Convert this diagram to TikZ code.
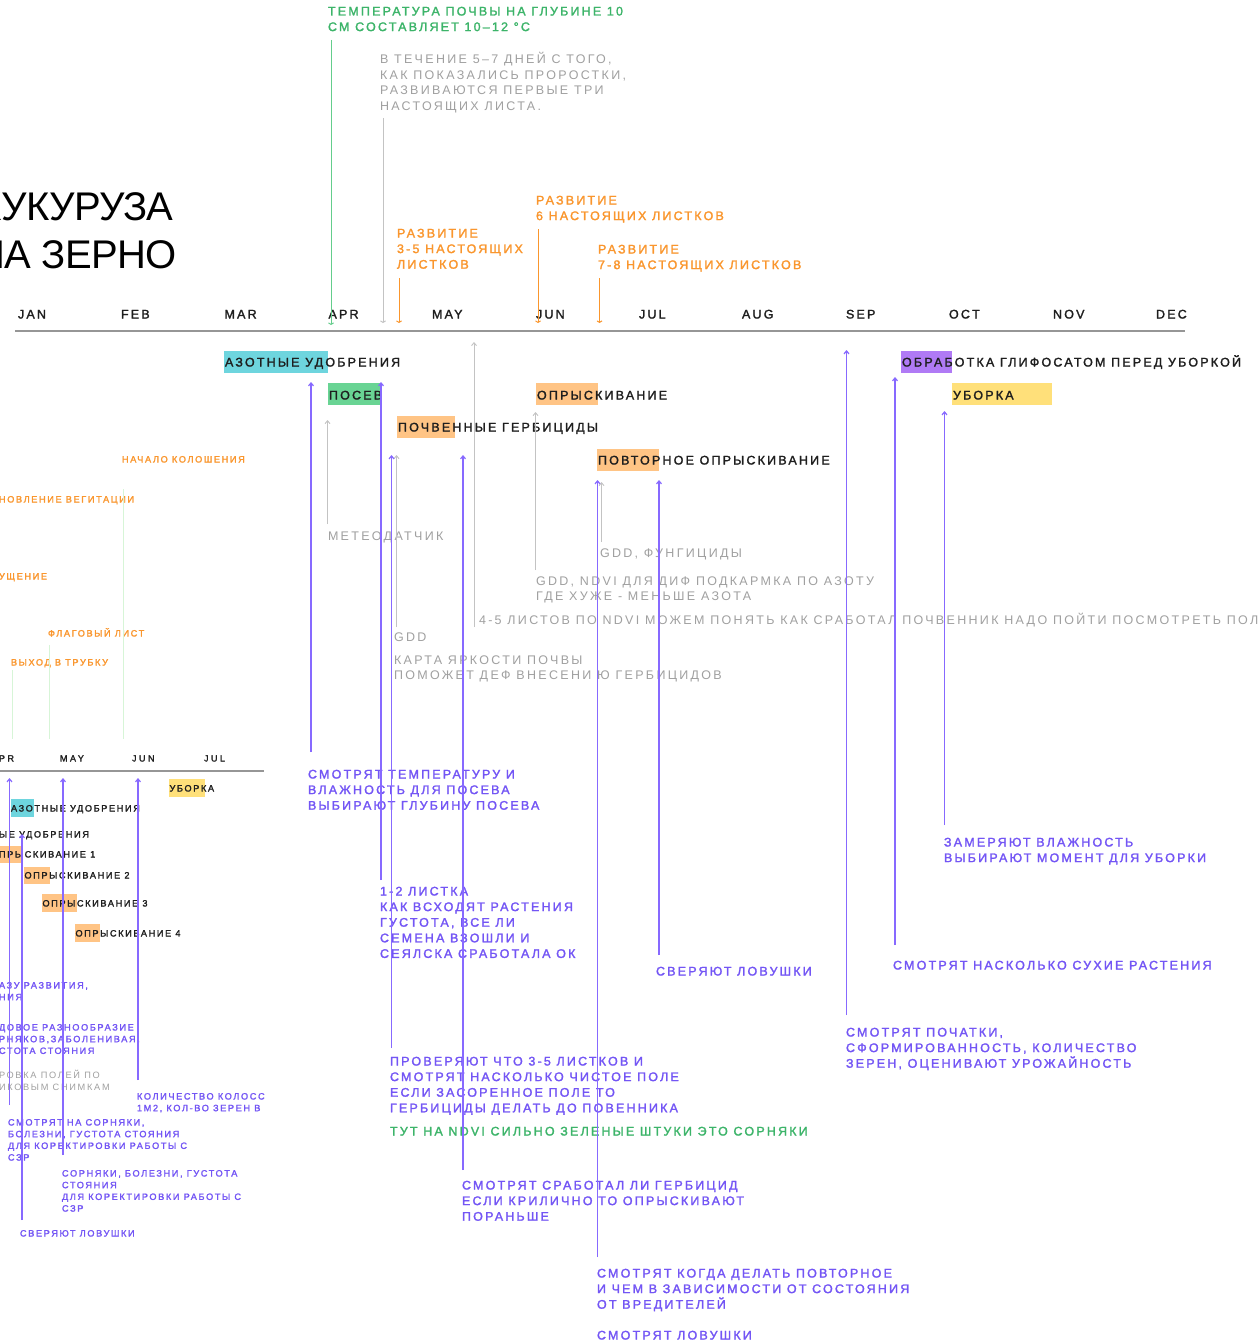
\documentclass[tikz,border=0pt]{standalone}
\usepackage{fontspec}
\usetikzlibrary{arrows.meta}
\newfontfamily\lfm[LetterSpace=17.5,FakeBold=1.8]{Liberation Sans}
\newfontfamily\lfr[LetterSpace=18.5]{Liberation Sans}
\newfontfamily\lfw[LetterSpace=28,FakeBold=1.8]{Liberation Sans}
\newfontfamily\ttlf[LetterSpace=-1.5]{Liberation Sans}
\definecolor{cOr}{RGB}{250,150,45}
\definecolor{cGt}{RGB}{60,180,105}
\definecolor{cGl}{RGB}{100,205,140}
\definecolor{cGr}{RGB}{160,160,160}
\definecolor{cGrl}{RGB}{195,195,195}
\definecolor{cPu}{RGB}{115,85,245}
\definecolor{cPul}{RGB}{135,105,255}
\definecolor{cDk}{RGB}{30,30,30}
\definecolor{cAx}{RGB}{150,150,150}
\definecolor{bCy}{RGB}{110,213,222}
\definecolor{bGn}{RGB}{105,212,148}
\definecolor{bOr}{RGB}{255,196,133}
\definecolor{bPu}{RGB}{176,122,245}
\definecolor{bYe}{RGB}{255,224,122}
\definecolor{cLg}{RGB}{215,245,215}
\tikzset{
  every node/.style={inner sep=0pt, outer sep=0pt},
  big/.style={font=\lfm\fontsize{12.5}{15.6}\selectfont, align=left, anchor=base west},
  bigr/.style={font=\lfr\fontsize{12.5}{15.6}\selectfont, align=left, anchor=base west},
  sml/.style={font=\lfm\fontsize{9.2}{11.7}\selectfont, align=left, anchor=base west},
  smlr/.style={font=\lfr\fontsize{9.2}{11.7}\selectfont, align=left, anchor=base west},
  mon/.style={font=\lfm\fontsize{12.5}{15}\selectfont, text=cDk, anchor=base west},
  smon/.style={font=\lfw\fontsize{9}{11}\selectfont, text=cDk, anchor=base west},
  ttl/.style={font=\ttlf\fontsize{40}{48}\selectfont, text=black},
  boxn/.style={anchor=north west, minimum width=#1, minimum height=22pt},
  sboxn/.style={anchor=north west, minimum width=#1, minimum height=18pt},
  parrow/.style={draw=cPul, line width=1.2pt, -{Straight Barb[length=3pt,width=5pt]}},
  garrow/.style={draw=cGrl, line width=0.9pt, -{Straight Barb[length=3pt,width=5pt]}},
  tickdn/.style={line width=1pt, -{Straight Barb[length=1.5pt,width=5pt]}},
  axisl/.style={draw=cAx, line width=2pt},
}
\begin{document}
\begin{tikzpicture}[x=1pt,y=1pt]
\fill[white] (0,0) rectangle (1259,-1343);
\useasboundingbox (0,0) rectangle (1259,-1343);

% ---------- title ----------
\node[ttl, anchor=base east] (title1) at (173.5,-220) {КУКУРУЗА};
\node[ttl, anchor=base east] (title2) at (177,-268) {НА ЗЕРНО};

% ---------- main axis ----------
\coordinate (axL) at (15,-331);
\coordinate (axR) at (1185,-331);
\draw[axisl] (axL) -- (axR);
\node[mon] (mJan) at (18,-318.5) {JAN};
\node[mon] (mFeb) at (121,-318.5) {FEB};
\node[mon] (mMar) at (224.5,-318.5) {MAR};
\node[mon] (mApr) at (328.5,-318.5) {APR};
\node[mon] (mMay) at (432,-318.5) {MAY};
\node[mon] (mJun) at (536,-318.5) {JUN};
\node[mon] (mJul) at (639,-318.5) {JUL};
\node[mon] (mAug) at (742,-318.5) {AUG};
\node[mon] (mSep) at (846,-318.5) {SEP};
\node[mon] (mOct) at (949,-318.5) {OCT};
\node[mon] (mNov) at (1053,-318.5) {NOV};
\node[mon] (mDec) at (1156,-318.5) {DEC};

% ---------- top annotations (base = last line) ----------
\node[big, text=cGt] (tTemp) at (328,-31.1) {ТЕМПЕРАТУРА ПОЧВЫ НА ГЛУБИНЕ 10\\СМ СОСТАВЛЯЕТ 10–12 °С};
\coordinate (gT1) at (331,-40); \coordinate (gB1) at (331,-325);
\draw[tickdn, draw=cGl] (gT1) -- (gB1);

\node[bigr, text=cGr] (tDays) at (380,-110.3) {В ТЕЧЕНИЕ 5–7 ДНЕЙ С ТОГО,\\КАК ПОКАЗАЛИСЬ ПРОРОСТКИ,\\РАЗВИВАЮТСЯ ПЕРВЫЕ ТРИ\\НАСТОЯЩИХ ЛИСТА.};
\coordinate (gT2) at (383,-118); \coordinate (gB2) at (383,-323);
\draw[tickdn, draw=cGrl] (gT2) -- (gB2);

\node[big, text=cOr] (tR35) at (397,-268.7) {РАЗВИТИЕ\\3-5 НАСТОЯЩИХ\\ЛИСТКОВ};
\coordinate (oT1) at (399,-278); \coordinate (oB1) at (399,-323);
\draw[tickdn, draw=cOr] (oT1) -- (oB1);

\node[big, text=cOr] (tR6) at (536,-220.1) {РАЗВИТИЕ\\6 НАСТОЯЩИХ ЛИСТКОВ};
\coordinate (oT2) at (538,-229); \coordinate (oB2) at (538,-323);
\draw[tickdn, draw=cOr] (oT2) -- (oB2);

\node[big, text=cOr] (tR78) at (598,-269.1) {РАЗВИТИЕ\\7-8 НАСТОЯЩИХ ЛИСТКОВ};
\coordinate (oT3) at (599.5,-278); \coordinate (oB3) at (599.5,-323);
\draw[tickdn, draw=cOr] (oT3) -- (oB3);

% ---------- stage boxes ----------
\node[boxn=104pt, fill=bCy] (bAz) at (224,-351) {};
\node[big, text=cDk] (sAz) at (225,-366.5) {АЗОТНЫЕ УДОБРЕНИЯ};
\node[boxn=53pt, fill=bGn] (bPos) at (328,-383) {};
\node[big, text=cDk] (sPos) at (329,-399.5) {ПОСЕВ};
\node[boxn=62pt, fill=bOr] (bOpr) at (536,-383) {};
\node[big, text=cDk] (sOpr) at (537,-399.5) {ОПРЫСКИВАНИЕ};
\node[boxn=58pt, fill=bOr] (bPoch) at (397,-416) {};
\node[big, text=cDk] (sPoch) at (398,-431.5) {ПОЧВЕННЫЕ ГЕРБИЦИДЫ};
\node[boxn=62pt, fill=bOr] (bPovt) at (597,-449) {};
\node[big, text=cDk] (sPovt) at (598,-464.5) {ПОВТОРНОЕ ОПРЫСКИВАНИЕ};
\node[boxn=51pt, fill=bPu] (bGli) at (901,-351) {};
\node[big, text=cDk] (sGli) at (902,-366.5) {ОБРАБОТКА ГЛИФОСАТОМ ПЕРЕД УБОРКОЙ};
\node[boxn=100pt, fill=bYe] (bUb) at (952,-383) {};
\node[big, text=cDk] (sUb) at (953,-399.5) {УБОРКА};

% ---------- gray sensor notes ----------
\node[bigr, text=cGr] (nMet) at (328,-540.5) {МЕТЕОДАТЧИК};
\coordinate (ga1b) at (327.5,-524); \coordinate (ga1t) at (327.5,-420);
\draw[garrow] (ga1b) -- (ga1t);
\node[bigr, text=cGr] (nGdd) at (394,-641) {GDD};
\node[bigr, text=cGr] (nKarta) at (394,-679.6) {КАРТА ЯРКОСТИ ПОЧВЫ\\ПОМОЖЕТ ДЕФ ВНЕСЕНИ Ю ГЕРБИЦИДОВ};
\coordinate (ga2b) at (396.5,-627); \coordinate (ga2t) at (396.5,-455);
\draw[garrow] (ga2b) -- (ga2t);
\node[bigr, text=cGr] (nNdvi45) at (479,-624.5) {4-5 ЛИСТОВ ПО NDVI МОЖЕМ ПОНЯТЬ КАК СРАБОТАЛ ПОЧВЕННИК НАДО ПОЙТИ ПОСМОТРЕТЬ ПОЛЕ};
\coordinate (ga3b) at (474,-627); \coordinate (ga3t) at (474,-342);
\draw[garrow] (ga3b) -- (ga3t);
\node[bigr, text=cGr] (nAzot) at (536,-600.6) {GDD, NDVI ДЛЯ ДИФ ПОДКАРМКА ПО АЗОТУ\\ГДЕ ХУЖЕ - МЕНЬШЕ АЗОТА};
\coordinate (ga4b) at (535.5,-570); \coordinate (ga4t) at (535.5,-412);
\draw[garrow] (ga4b) -- (ga4t);
\node[bigr, text=cGr] (nFung) at (600,-557.5) {GDD, ФУНГИЦИДЫ};
\coordinate (ga5b) at (601.5,-542); \coordinate (ga5t) at (601.5,-482);
\draw[garrow] (ga5b) -- (ga5t);

% ---------- purple observations ----------
\node[big, text=cPu] (pTemp) at (308,-809.7) {СМОТРЯТ ТЕМПЕРАТУРУ И\\ВЛАЖНОСТЬ ДЛЯ ПОСЕВА\\ВЫБИРАЮТ ГЛУБИНУ ПОСЕВА};
\coordinate (pa1b) at (311,-752); \coordinate (pa1t) at (311,-382);
\draw[parrow] (pa1b) -- (pa1t);
\node[big, text=cPu] (pList) at (380,-957.9) {1-2 ЛИСТКА\\КАК ВСХОДЯТ РАСТЕНИЯ\\ГУСТОТА, ВСЕ ЛИ\\СЕМЕНА ВЗОШЛИ И\\СЕЯЛСКА СРАБОТАЛА ОК};
\coordinate (pa2b) at (381,-880); \coordinate (pa2t) at (381,-382);
\draw[parrow] (pa2b) -- (pa2t);
\node[big, text=cPu] (pProv) at (390,-1112.3) {ПРОВЕРЯЮТ ЧТО 3-5 ЛИСТКОВ И\\СМОТРЯТ НАСКОЛЬКО ЧИСТОЕ ПОЛЕ\\ЕСЛИ ЗАСОРЕННОЕ ПОЛЕ ТО\\ГЕРБИЦИДЫ ДЕЛАТЬ ДО ПОВЕННИКА};
\node[big, text=cGt] (pNdvi) at (390,-1135.5) {ТУТ НА NDVI СИЛЬНО ЗЕЛЕНЫЕ ШТУКИ ЭТО СОРНЯКИ};
\coordinate (pa3b) at (391.5,-1048); \coordinate (pa3t) at (391.5,-455);
\draw[parrow] (pa3b) -- (pa3t);
\node[big, text=cPu] (pGerb) at (462,-1220.7) {СМОТРЯТ СРАБОТАЛ ЛИ ГЕРБИЦИД\\ЕСЛИ КРИЛИЧНО ТО ОПРЫСКИВАЮТ\\ПОРАНЬШЕ};
\coordinate (pa4b) at (463,-1170); \coordinate (pa4t) at (463,-455);
\draw[parrow] (pa4b) -- (pa4t);
\node[big, text=cPu] (pPovt) at (597,-1308.7) {СМОТРЯТ КОГДА ДЕЛАТЬ ПОВТОРНОЕ\\И ЧЕМ В ЗАВИСИМОСТИ ОТ СОСТОЯНИЯ\\ОТ ВРЕДИТЕЛЕЙ};
\node[big, text=cPu] (pLov2) at (597,-1339.5) {СМОТРЯТ ЛОВУШКИ};
\coordinate (pa5b) at (597.5,-1257); \coordinate (pa5t) at (597.5,-480);
\draw[parrow] (pa5b) -- (pa5t);
\node[big, text=cPu] (pLov1) at (656,-975.5) {СВЕРЯЮТ ЛОВУШКИ};
\coordinate (pa6b) at (659,-955); \coordinate (pa6t) at (659,-480);
\draw[parrow] (pa6b) -- (pa6t);
\node[big, text=cPu] (pPoch) at (846,-1067.7) {СМОТРЯТ ПОЧАТКИ,\\СФОРМИРОВАННОСТЬ, КОЛИЧЕСТВО\\ЗЕРЕН, ОЦЕНИВАЮТ УРОЖАЙНОСТЬ};
\coordinate (pa7b) at (846.5,-1015); \coordinate (pa7t) at (846.5,-350);
\draw[parrow] (pa7b) -- (pa7t);
\node[big, text=cPu] (pSuh) at (893,-969.5) {СМОТРЯТ НАСКОЛЬКО СУХИЕ РАСТЕНИЯ};
\coordinate (pa8b) at (895,-945); \coordinate (pa8t) at (895,-377);
\draw[parrow] (pa8b) -- (pa8t);
\node[big, text=cPu] (pVl) at (944,-862.1) {ЗАМЕРЯЮТ ВЛАЖНОСТЬ\\ВЫБИРАЮТ МОМЕНТ ДЛЯ УБОРКИ};
\coordinate (pa9b) at (944.5,-825); \coordinate (pa9t) at (944.5,-411);
\draw[parrow] (pa9b) -- (pa9t);

% ---------- left inset (cropped second timeline) ----------
\node[sml, text=cOr] (iKol) at (122,-462.5) {НАЧАЛО КОЛОШЕНИЯ};
\node[sml, text=cOr] (iVeg) at (-1,-502.5) {НОВЛЕНИЕ ВЕГИТАЦИИ};
\node[sml, text=cOr] (iKush) at (-1,-579.5) {УЩЕНИЕ};
\node[sml, text=cOr] (iFlag) at (48,-636.5) {ФЛАГОВЫЙ ЛИСТ};
\node[sml, text=cOr] (iTrub) at (11,-665.5) {ВЫХОД В ТРУБКУ};
\coordinate (lg1t) at (123.5,-489); \coordinate (lg1b) at (123.5,-739);
\coordinate (lg2t) at (49,-645); \coordinate (lg2b) at (49,-739);
\coordinate (lg3t) at (12,-670); \coordinate (lg3b) at (12,-739);
\draw[draw=cLg, line width=1pt] (lg1t) -- (lg1b);
\draw[draw=cLg, line width=1pt] (lg2t) -- (lg2b);
\draw[draw=cLg, line width=1pt] (lg3t) -- (lg3b);

\coordinate (iaxL) at (0,-771); \coordinate (iaxR) at (264,-771);
\draw[axisl] (iaxL) -- (iaxR);
\node[smon] (imApr) at (-1,-761.5) {PR};
\node[smon] (imMay) at (60,-761.5) {MAY};
\node[smon] (imJun) at (132,-761.5) {JUN};
\node[smon] (imJul) at (204,-761.5) {JUL};

\node[sboxn=36pt, fill=bYe] (ibUb) at (169,-779) {};
\node[sml, text=cDk] (isUb) at (169.5,-791.5) {УБОРКА};
\node[sboxn=23pt, fill=bCy] (ibAz) at (10.5,-799) {};
\node[sml, text=cDk] (isAz) at (11,-811.5) {АЗОТНЫЕ УДОБРЕНИЯ};
\node[sml, text=cDk] (isAz2) at (-1,-837.5) {ЫЕ УДОБРЕНИЯ};
\node[sboxn=21pt, minimum height=17pt, fill=bOr] (ibO1) at (0,-846) {};
\node[sml, text=cDk] (isO1) at (-1,-857.5) {ПРЫСКИВАНИЕ 1};
\node[sboxn=26pt, minimum height=17pt, fill=bOr] (ibO2) at (24,-867) {};
\node[sml, text=cDk] (isO2) at (24.5,-878.5) {ОПРЫСКИВАНИЕ 2};
\node[sboxn=35pt, fill=bOr] (ibO3) at (42,-894) {};
\node[sml, text=cDk] (isO3) at (42.5,-906.5) {ОПРЫСКИВАНИЕ 3};
\node[sboxn=25pt, fill=bOr] (ibO4) at (75,-924) {};
\node[sml, text=cDk] (isO4) at (75.5,-936.5) {ОПРЫСКИВАНИЕ 4};

\node[sml, text=cPu] (ipFaz) at (-1,-1000.2) {АЗУ РАЗВИТИЯ,\\НИЯ};
\node[sml, text=cPu] (ipVid) at (-1,-1053.9) {ДОВОЕ РАЗНООБРАЗИЕ\\РНЯКОВ,ЗАБОЛЕНИВАЯ,\\СТОТА СТОЯНИЯ};
\node[smlr, text=cGr] (ipSnim) at (-1,-1090.2) {РОВКА ПОЛЕЙ ПО\\ИКОВЫМ СНИМКАМ};
\node[sml, text=cPu] (ipKol) at (137,-1111.2) {КОЛИЧЕСТВО КОЛОСС\\1М2, КОЛ-ВО ЗЕРЕН В};
\node[sml, text=cPu] (ipSor1) at (8,-1160.6) {СМОТРЯТ НА СОРНЯКИ,\\БОЛЕЗНИ, ГУСТОТА СТОЯНИЯ\\ДЛЯ КОРЕКТИРОВКИ РАБОТЫ С\\СЗР};
\node[sml, text=cPu] (ipSor2) at (62,-1211.6) {СОРНЯКИ, БОЛЕЗНИ, ГУСТОТА\\СТОЯНИЯ\\ДЛЯ КОРЕКТИРОВКИ РАБОТЫ С\\СЗР};
\node[sml, text=cPu] (ipLov) at (20,-1236.5) {СВЕРЯЮТ ЛОВУШКИ};

\coordinate (ia1b) at (9.5,-1105); \coordinate (ia1t) at (9.5,-778);
\draw[parrow] (ia1b) -- (ia1t);
\coordinate (ia2b) at (22,-1220); \coordinate (ia2t) at (22,-834);
\draw[parrow] (ia2b) -- (ia2t);
\coordinate (ia3b) at (63,-1155); \coordinate (ia3t) at (63,-778);
\draw[parrow] (ia3b) -- (ia3t);
\coordinate (ia4b) at (138,-1080); \coordinate (ia4t) at (138,-778);
\draw[parrow] (ia4b) -- (ia4t);
\end{tikzpicture}
\end{document}
